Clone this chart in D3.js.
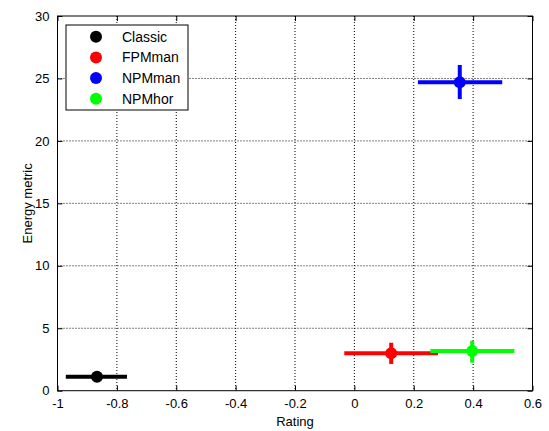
<!DOCTYPE html>
<html><head><meta charset="utf-8">
<script src="https://cdn.jsdelivr.net/npm/d3@7"></script>
<style>body{margin:0;background:#fff}svg{display:block}text{font-family:"Liberation Sans",Arial,sans-serif}</style>
</head><body><svg id="c" width="549" height="431"></svg>
<script>
const names = ["Classic","FPMman","NPMman","NPMhor"];
const colors = ["#000000","#ff0000","#0000ff","#00ff00"];
const xMean = [-0.867, 0.124, 0.355, 0.397];
const yMean = [1.12, 2.99, 24.69, 3.18];
const xLow  = [-0.972, -0.034, 0.214, 0.256];
const xHigh = [-0.766, 0.282, 0.498, 0.539];
const yLow  = [0.95, 2.14, 23.35, 2.24];
const yHigh = [1.30, 3.84, 26.08, 4.0];
const xTicks = [-1,-0.8,-0.6,-0.4,-0.2,0,0.2,0.4,0.6];
const yTicks = [0,5,10,15,20,25,30];

const L=57.5,R=532.5,T=16,B=390.7;
const svg=d3.select("#c");
const x=d3.scaleLinear().domain([-1,0.6]).range([L,R]);
const y=d3.scaleLinear().domain([0,30]).range([B,T]);

// grid
const g=svg.append("g");
g.selectAll(".gx").data(xTicks.slice(1,-1)).enter().append("line")
 .attr("x1",d=>x(d)).attr("x2",d=>x(d)).attr("y1",T).attr("y2",B)
 .attr("stroke","#000").attr("stroke-width",1).attr("stroke-dasharray","1,2");
g.selectAll(".gy").data(yTicks.slice(1,-1)).enter().append("line")
 .attr("y1",d=>y(d)).attr("y2",d=>y(d)).attr("x1",L).attr("x2",R)
 .attr("stroke","#000").attr("stroke-width",1).attr("stroke-dasharray","1,2");

// axes
const fmt=d=>d===0?"0":String(d);
svg.append("g").attr("transform",`translate(0,${B})`)
 .call(d3.axisBottom(x).tickValues(xTicks).tickFormat(fmt).tickSizeInner(-5).tickSizeOuter(0).tickPadding(8))
 .call(a=>a.select(".domain").remove());
svg.append("g").attr("transform",`translate(0,${T})`)
 .call(d3.axisTop(x).tickValues(xTicks).tickFormat("").tickSizeInner(-5).tickSizeOuter(0))
 .call(a=>a.select(".domain").remove());
svg.append("g").attr("transform",`translate(${L},0)`)
 .call(d3.axisLeft(y).tickValues(yTicks).tickFormat(fmt).tickSizeInner(-5).tickSizeOuter(0).tickPadding(8))
 .call(a=>a.select(".domain").remove());
svg.append("g").attr("transform",`translate(${R},0)`)
 .call(d3.axisRight(y).tickValues(yTicks).tickFormat("").tickSizeInner(-5).tickSizeOuter(0))
 .call(a=>a.select(".domain").remove());
svg.selectAll(".tick text").attr("font-size",13).attr("fill","#000").style("font-family","Liberation Sans, Arial, sans-serif");
svg.selectAll(".tick line").attr("stroke","#000");
svg.append("rect").attr("x",L).attr("y",T).attr("width",R-L).attr("height",B-T)
 .attr("fill","none").attr("stroke","#000").attr("stroke-width",1);

// data
const idx=d3.range(names.length);
const m=svg.append("g");
idx.forEach(i=>{
  m.append("line").attr("x1",x(xLow[i])).attr("x2",x(xHigh[i])).attr("y1",y(yMean[i])).attr("y2",y(yMean[i]))
   .attr("stroke",colors[i]).attr("stroke-width",4);
  m.append("line").attr("x1",x(xMean[i])).attr("x2",x(xMean[i])).attr("y1",y(yLow[i])).attr("y2",y(yHigh[i]))
   .attr("stroke",colors[i]).attr("stroke-width",4);
  m.append("circle").attr("cx",x(xMean[i])).attr("cy",y(yMean[i])).attr("r",6).attr("fill",colors[i]);
});

// legend
const lg=svg.append("g");
lg.append("rect").attr("x",66).attr("y",25).attr("width",122).attr("height",85)
 .attr("fill","#fff").attr("stroke","#000").attr("stroke-width",1);
idx.forEach(i=>{
  const yy=36.7+i*20.7;
  lg.append("circle").attr("cx",96).attr("cy",yy).attr("r",6).attr("fill",colors[i]);
  lg.append("text").attr("x",122).attr("y",yy).attr("dy","0.35em").attr("font-size",14).text(names[i]);
});

// titles
svg.append("text").attr("x",(L+R)/2).attr("y",426).attr("text-anchor","middle").attr("font-size",13).text("Rating");
svg.append("text").attr("transform",`translate(32,${(T+B)/2}) rotate(-90)`).attr("text-anchor","middle").attr("font-size",13).text("Energy metric");
</script></body></html>
